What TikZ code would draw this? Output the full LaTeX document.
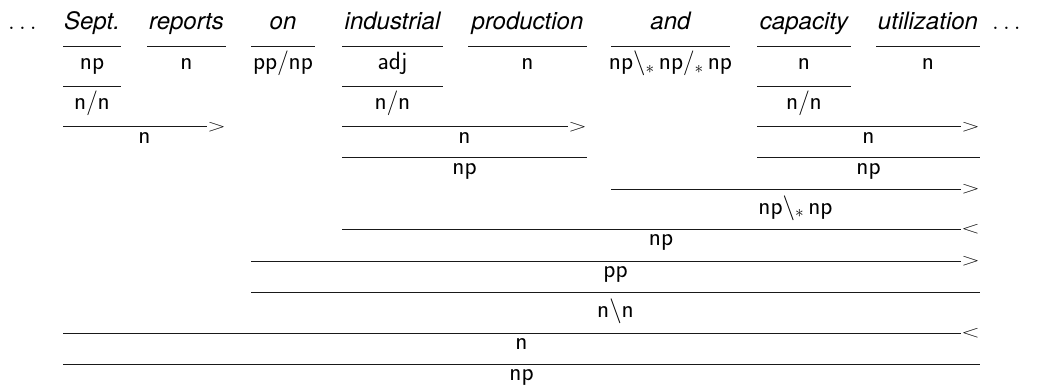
\documentclass[tikz,border=0pt]{standalone}
\usepackage{fontspec}
\newfontfamily\wordfont{TeX Gyre Heros}
\newcommand\ct[1]{\textsf{#1}}
\newcommand\lsl{\backslash_{\ast}\,}
\newcommand\rsl{/_{\ast}\,}
% one derivation step: name, left x, right x, bar y, rule tip, label baseline y, category
\newcommand\combine[7]{%
  \coordinate (#1-l) at (#2,#4);
  \coordinate (#1-r) at (#3,#4);
  \if\relax\detokenize{#5}\relax
    \draw[bar] (#1-l) -- (#1-r);
  \else
    \node[tip] (#1-t) at (#1-r) {\scalebox{1.4}[1]{$#5$}};
    \draw[bar] (#1-l) -- (#1-t.west);
  \fi
  \node[cat] (#1-c) at ({(#2+#3)/2},#6) {$#7$};
}
\begin{document}
\begin{tikzpicture}[x=1pt,y=-1pt,
  word/.style={anchor=base,inner sep=0pt,font=\wordfont\itshape\fontsize{24}{28}\selectfont},
  cat/.style={anchor=base,inner sep=0pt,font=\fontsize{25}{30}\selectfont},
  bar/.style={line width=1pt,draw=black!90},
  tip/.style={anchor=east,inner sep=0pt,font=\fontsize{18}{20}\selectfont}]
\useasboundingbox (0,0) rectangle (1038,385);

% sentence fragment and lexical categories
\node[cat] (dots-l) at (22.5,30) {$\ldots$};
\node[cat] (dots-r) at (1006.5,30) {$\ldots$};
\foreach \n/\xa/\xb/\w/\c in {
    sept/63/121/Sept./{$\ct{np}$},
    reports/147/226/reports/{$\ct{n}$},
    on/251/315/on/{$\ct{pp}/\ct{np}$},
    industrial/342/443/industrial/{$\ct{adj}$},
    production/468/587/production/{$\ct{n}$},
    and/611/730/and/{$\ct{np}\lsl\ct{np}\rsl\ct{np}$},
    capacity/757/851/capacity/{$\ct{n}$},
    utilization/876/980/utilization/{$\ct{n}$}}{
  \coordinate (\n-l) at (\xa,46.7);
  \coordinate (\n-r) at (\xb,46.7);
  \draw[bar] (\n-l) -- (\n-r);
  \node[word] (\n-w) at ({(\xa+\xb)/2},30) {\w};
  \node[cat] (\n-c) at ({(\xa+\xb)/2},70) {\c};
}

% type raising of nouns to modifiers
\combine{u1}{63}{121}{86.7}{}{110}{\ct{n}/\ct{n}}
\combine{u2}{342}{443}{86.7}{}{110}{\ct{n}/\ct{n}}
\combine{u3}{757}{851}{86.7}{}{110}{\ct{n}/\ct{n}}
% forward application of the modifiers
\combine{f1}{63}{226}{126.7}{>}{143.3}{\ct{n}}
\combine{f2}{342}{587}{126.7}{>}{143.3}{\ct{n}}
\combine{f3}{757}{980}{126.7}{>}{143.3}{\ct{n}}
% bare nouns to noun phrases
\combine{p1}{342}{587}{157.7}{}{174.3}{\ct{np}}
\combine{p2}{757}{980}{157.7}{}{174.3}{\ct{np}}
% coordination
\combine{c1}{611}{980}{189}{>}{214}{\ct{np}\lsl\ct{np}}
\combine{c2}{342}{980}{229}{<}{245.6}{\ct{np}}
% prepositional phrase and the full noun phrase
\combine{a1}{251}{980}{261}{>}{277.6}{\ct{pp}}
\combine{a2}{251}{980}{292}{}{317}{\ct{n}\backslash\ct{n}}
\combine{a3}{63}{980}{333}{<}{349.6}{\ct{n}}
\combine{a4}{63}{980}{364}{}{380.6}{\ct{np}}
\end{tikzpicture}
\end{document}
